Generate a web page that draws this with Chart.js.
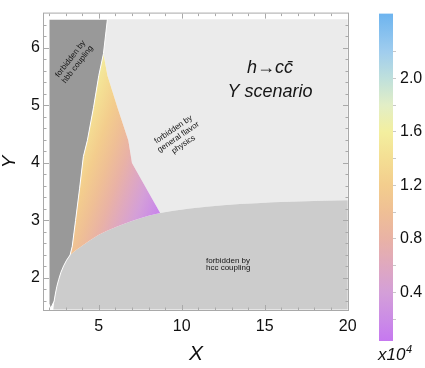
<!DOCTYPE html>
<html><head><meta charset="utf-8">
<script src="https://cdn.jsdelivr.net/npm/chart.js@4/dist/chart.umd.min.js"></script>
<style>
html,body{margin:0;padding:0;background:#fff;}
#wrap{position:relative;width:425px;height:368px;overflow:hidden;background:#fff;}
#main{position:absolute;left:0;top:0;}
#bar{position:absolute;left:360px;top:0;}
</style></head><body>
<div id="wrap"><canvas id="main" width="425" height="368"></canvas><canvas id="bar" width="65" height="368"></canvas></div>
<script>
// ---------------- data ----------------
const xRange = [1.638, 20.08];
const yRange = [1.426, 6.614];
const xTickLabels = [5, 10, 15, 20];
const xMinorTicks = [2, 3, 4, 6, 7, 8, 9, 11, 12, 13, 14, 16, 17, 18, 19];
const yTickLabels = [2, 3, 4, 5, 6];
const yMinorTicks = [1.6, 1.8, 2.2, 2.4, 2.6, 2.8, 3.2, 3.4, 3.6, 3.8, 4.2, 4.4, 4.6, 4.8, 5.2, 5.4, 5.6, 5.8, 6.2, 6.4];

// boundary between the hbb-forbidden region and the rest (top -> bottom)
const hbbEdge = [[5.52, 6.5], [5.28, 5.9], [5.0, 5.52], [4.68, 4.96], [4.31, 4.39], [4.07, 4.11], [3.84, 3.55], [3.6, 3.0], [3.4, 2.55], [3.27, 2.4]];
// upper boundary of the hcc-forbidden region (left -> right)
const hccEdge = [[2.26, 1.45], [2.31, 1.58], [2.38, 1.72], [2.47, 1.85], [2.58, 1.97], [2.72, 2.1], [2.88, 2.21], [3.06, 2.31], [3.27, 2.4],
  [3.6, 2.48], [4.0, 2.56], [4.5, 2.66], [5.0, 2.75], [5.5, 2.82], [6.0, 2.88], [6.5, 2.94], [7.0, 2.99], [7.5, 3.04], [8.0, 3.08], [8.7, 3.13],
  [9.5, 3.17], [10.5, 3.21], [11.5, 3.24], [12.5, 3.265], [13.5, 3.285], [14.5, 3.3], [15.5, 3.315], [16.5, 3.325], [17.5, 3.335], [18.5, 3.343], [20, 3.35]];
// boundary between the allowed region and the flavour-forbidden region (top -> bottom)
const flavorEdge = [[5.28, 5.9], [5.52, 5.52], [6.13, 4.96], [6.78, 4.39], [7.0, 4.0], [8.7, 3.13]];
// outer corners of the plotted domain
const domainX = [2, 20];
const domainY = [1.45, 6.5];
const hbbTip = [[2.31, 1.6], [2.1, 1.47], [2.0, 1.55]];

// colour value (x10^4) sampled inside the allowed region
const allowedValueSamples = [[5.28, 5.9, 1.55], [3.27, 2.4, 1.06], [8.7, 3.13, 0.11]];

// colour bar
const cbRange = [0.037, 2.485];
const cbTickLabels = [0.4, 0.8, 1.2, 1.6, 2.0];
const cbMinorTicks = [0.2, 0.6, 1.0, 1.4, 1.8, 2.2];

// ---------------- styles ----------------
const cmapStops = [[0.037, '#c678f0'], [0.2, '#cb8ce6'], [0.4, '#d49fd8'], [0.6, '#dfa8bf'], [0.8, '#e9b2a5'], [1.0, '#efbf95'], [1.2, '#f3cd8d'], [1.4, '#f4de93'], [1.6, '#f3ef9f'], [1.8, '#e2eec6'], [2.0, '#bfe0dc'], [2.2, '#a0cdee'], [2.485, '#6db4ef']];
const FONT = '"Liberation Sans", Arial, Helvetica, sans-serif';
Chart.defaults.font.family = FONT;
Chart.defaults.color = '#111';

// ---------------- polygons built from boundaries ----------------
const toPts = arr => arr.map(p => ({x: p[0], y: p[1]}));
const hccIdx = hccEdge.findIndex(p => p[0] === 3.27);
const hccRightIdx = hccEdge.findIndex(p => p[0] === 8.7);

const hbbPoly = [[domainX[0], domainY[1]], ...hbbEdge, ...hccEdge.slice(0, hccIdx).reverse().filter(p => p[1] > 1.6), ...hbbTip, [domainX[0], domainY[1]]];
const hccPoly = [...hccEdge, [domainX[1], domainY[0]]];
const allowedPoly = [...flavorEdge, ...hccEdge.slice(hccIdx, hccRightIdx).reverse(), ...hbbEdge.slice(1).reverse()];
const flavorPoly = [[hbbEdge[0][0], domainY[1]], [domainX[1], domainY[1]], ...hccEdge.slice(hccRightIdx).reverse(), ...flavorEdge.slice().reverse()];

function plane(s) {
  const [x1, y1, v1] = s[0], [x2, y2, v2] = s[1], [x3, y3, v3] = s[2];
  const det = (x2 - x1) * (y3 - y1) - (x3 - x1) * (y2 - y1);
  const b = ((v2 - v1) * (y3 - y1) - (v3 - v1) * (y2 - y1)) / det;
  const c = ((x2 - x1) * (v3 - v1) - (x3 - x1) * (v2 - v1)) / det;
  return {a: v1 - b * x1 - c * y1, b, c};
}
function addStops(grad, v0, v1) {
  cmapStops.forEach(([v, col]) => grad.addColorStop(Math.min(1, Math.max(0, (v - v0) / (v1 - v0))), col));
  return grad;
}
function allowedFill(context) {
  const chart = context.chart;
  const xs = chart.scales.x, ys = chart.scales.y;
  if (!chart.chartArea || !xs || !ys) return '#efbf95';
  const {a, b, c} = plane(allowedValueSamples);
  const dpx = xs.getPixelForValue(1) - xs.getPixelForValue(0);
  const dpy = ys.getPixelForValue(1) - ys.getPixelForValue(0);
  const beta = b / dpx, gamma = c / dpy;
  const ox = xs.getPixelForValue(0), oy = ys.getPixelForValue(0);
  const g2 = beta * beta + gamma * gamma;
  const ux = beta / g2, uy = gamma / g2;
  const v0 = cbRange[0], v1 = cbRange[1];
  const grad = chart.ctx.createLinearGradient(ox + (v0 - a) * ux, oy + (v0 - a) * uy, ox + (v1 - a) * ux, oy + (v1 - a) * uy);
  return addStops(grad, v0, v1);
}

function region(poly, color, extra) {
  return Object.assign({
    data: toPts(poly), showLine: true, fill: 'shape', backgroundColor: color,
    borderWidth: 0, borderColor: 'rgba(0,0,0,0)', pointRadius: 0, pointHoverRadius: 0, tension: 0
  }, extra || {});
}

// ---------------- plugins ----------------
const annotations = [
  {lines: ['h\u2192c\u0063\u0304'], x: 15.32, y: 5.65, font: 'italic 18px ' + FONT, rot: 0, lh: 0},
  {lines: ['Y scenario'], x: 15.32, y: 5.23, font: 'italic 18px ' + FONT, rot: 0, lh: 0},
  {lines: ['forbidden by', 'hbb coupling'], x: 3.51, y: 5.76, font: '8px ' + FONT, rot: -52, lh: 9},
  {lines: ['forbidden by', 'general flavor', 'physics'], x: 9.8, y: 4.45, font: '8px ' + FONT, rot: -34, lh: 9},
  {lines: ['forbidden by', 'hcc coupling'], x: 11.46, y: 2.234, font: '8px ' + FONT, rot: 0, lh: 7.5, align: 'left'}
];
const textPlugin = {
  id: 'regionText',
  afterDatasetsDraw(chart) {
    const {ctx, scales: {x, y}} = chart;
    annotations.forEach(an => {
      ctx.save();
      ctx.translate(x.getPixelForValue(an.x), y.getPixelForValue(an.y));
      ctx.rotate(an.rot * Math.PI / 180);
      ctx.font = an.font;
      ctx.fillStyle = '#151515';
      ctx.textAlign = an.align || 'center';
      ctx.textBaseline = 'middle';
      const n = an.lines.length;
      an.lines.forEach((t, i) => ctx.fillText(t, 0, (i - (n - 1) / 2) * an.lh));
      ctx.restore();
    });
  }
};
const framePlugin = {
  id: 'frameTicks',
  afterDatasetsDraw(chart) {
    const {ctx, chartArea: {left, right, top, bottom}, scales: {x, y}} = chart;
    ctx.save();
    ctx.strokeStyle = '#a9a9a9';
    ctx.lineWidth = 1;
    ctx.strokeRect(left + 0.5, top + 0.5, right - left - 1, bottom - top - 1);
    ctx.beginPath();
    const vx = (vals, len) => vals.forEach(v => {
      const p = Math.round(x.getPixelForValue(v)) + 0.5;
      ctx.moveTo(p, bottom - 1); ctx.lineTo(p, bottom - 1 - len);
      ctx.moveTo(p, top + 1); ctx.lineTo(p, top + 1 + len);
    });
    const vy = (vals, len) => vals.forEach(v => {
      const p = Math.round(y.getPixelForValue(v)) + 0.5;
      ctx.moveTo(left + 1, p); ctx.lineTo(left + 1 + len, p);
      ctx.moveTo(right - 1, p); ctx.lineTo(right - 1 - len, p);
    });
    vx(xTickLabels, 5); vx(xMinorTicks, 2.5);
    vy(yTickLabels, 5); vy(yMinorTicks, 2.5);
    ctx.stroke();
    ctx.restore();
  }
};

// ---------------- main chart ----------------
new Chart(document.getElementById('main'), {
  type: 'scatter',
  data: {
    datasets: [
      region(hbbPoly, '#999999', {borderColor: '#ffffff', borderWidth: 1}),
      region(allowedPoly, allowedFill),
      region(hccPoly, '#cccccc'),
      region(flavorPoly, '#ebebeb')
    ]
  },
  options: {
    responsive: false, animation: false, events: [],
    layout: {padding: {top: 1, right: 76, left: 0, bottom: 0}},
    plugins: {legend: {display: false}, tooltip: {enabled: false}},
    scales: {
      x: {
        type: 'linear', min: xRange[0], max: xRange[1],
        afterBuildTicks: s => { s.ticks = xTickLabels.map(v => ({value: v})); },
        afterFit: s => { s.height = 57; },
        grid: {display: false, drawTicks: false}, border: {display: false},
        ticks: {padding: 6, font: {size: 16}, color: '#111', autoSkip: false, maxRotation: 0},
        title: {display: true, text: 'X', font: {size: 21, style: 'italic', lineHeight: 1}, color: '#111', padding: {top: 0, bottom: 3}}
      },
      y: {
        type: 'linear', min: yRange[0], max: yRange[1],
        afterBuildTicks: s => { s.ticks = yTickLabels.map(v => ({value: v})); },
        afterFit: s => { s.width = 43; },
        grid: {display: false, drawTicks: false}, border: {display: false},
        ticks: {padding: 3, font: {size: 16}, color: '#111', autoSkip: false},
        title: {display: true, text: 'Y', font: {size: 19, style: 'italic', lineHeight: 1}, color: '#111', padding: {top: 0, bottom: 0}}
      }
    }
  },
  plugins: [textPlugin, framePlugin]
});

// ---------------- colour bar ----------------
function barFill(context) {
  const chart = context.chart;
  const ys = chart.scales.y;
  if (!chart.chartArea || !ys) return '#efbf95';
  const grad = chart.ctx.createLinearGradient(0, ys.getPixelForValue(cbRange[0]), 0, ys.getPixelForValue(cbRange[1]));
  return addStops(grad, cbRange[0], cbRange[1]);
}
const cbUnitPlugin = {
  id: 'cbUnit',
  afterDraw(chart) {
    const {ctx, chartArea} = chart;
    ctx.save();
    ctx.fillStyle = '#111';
    ctx.textAlign = 'left';
    ctx.textBaseline = 'alphabetic';
    ctx.font = 'italic 17px ' + FONT;
    const x0 = chartArea.left - 1, base = chartArea.bottom + 19;
    ctx.fillText('x10', x0, base);
    const w = ctx.measureText('x10').width;
    ctx.font = 'italic 11px ' + FONT;
    ctx.fillText('4', x0 + w + 0.5, base - 7);
    ctx.restore();
  }
};
new Chart(document.getElementById('bar'), {
  type: 'bar',
  data: {labels: [''], datasets: [{data: [cbRange], backgroundColor: barFill, borderWidth: 0, barPercentage: 1, categoryPercentage: 1}]},
  options: {
    responsive: false, animation: false, events: [],
    layout: {padding: {left: 19, top: 12, right: 0, bottom: 0}},
    plugins: {legend: {display: false}, tooltip: {enabled: false}},
    scales: {
      x: {
        display: true,
        grid: {display: false, drawTicks: false}, border: {display: false}, ticks: {display: false},
        afterFit: s => { s.height = 27; }
      },
      y: {
        position: 'right', min: cbRange[0], max: cbRange[1],
        afterBuildTicks: s => { s.ticks = [...cbTickLabels, ...cbMinorTicks].sort((p, q) => p - q).map(v => ({value: v})); },
        afterFit: s => { s.width = 32; },
        grid: {display: true, drawOnChartArea: false, drawTicks: true, tickLength: 3, color: '#c8c8c8'},
        border: {display: false},
        ticks: {padding: 4, autoSkip: false, font: {size: 16}, color: '#111',
          callback: v => cbTickLabels.includes(v) ? v.toFixed(1) : ''}
      }
    }
  },
  plugins: [cbUnitPlugin]
});
</script>
</body></html>
